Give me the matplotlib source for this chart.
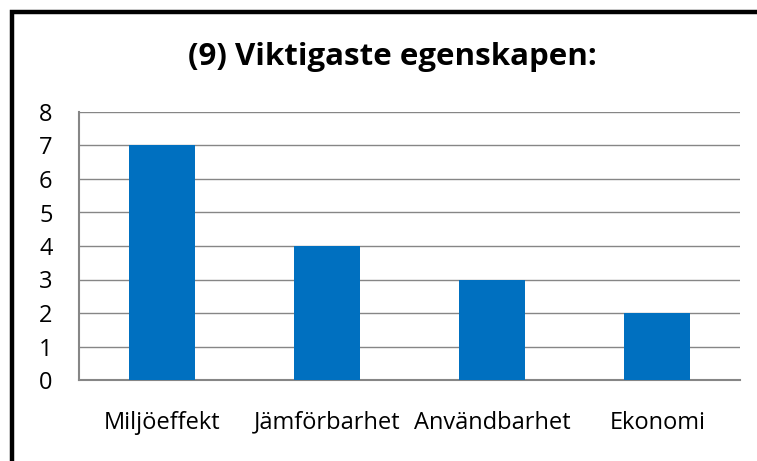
import matplotlib
matplotlib.use("Agg")
import matplotlib.pyplot as plt
from matplotlib.patches import Rectangle

categories = ["Miljöeffekt", "Jämförbarhet", "Användbarhet", "Ekonomi"]
values = [7, 4, 3, 2]
yticks = [0, 1, 2, 3, 4, 5, 6, 7, 8]
title = "(9) Viktigaste egenskapen:"

W, H = 757, 461
fig = plt.figure(figsize=(W / 100, H / 100), dpi=100)
fig.patch.set_facecolor("white")

# outer border (open on right/bottom, as cropped)
fig.patches.append(Rectangle((12 / W, -0.1), 1.2, (H - 12) / H + 0.1,
                             transform=fig.transFigure, fill=False,
                             edgecolor="black", linewidth=3.2))

left, right, top, bottom = 79, 740, 112, 380
ax = fig.add_axes([left / W, 1 - bottom / H, (right - left) / W, (bottom - top) / H])

x = range(len(categories))
ax.bar(x, values, width=0.4, color="#0070C0", zorder=3)
ax.set_xlim(-0.5, len(categories) - 0.5)
ax.set_ylim(0, 8)
ax.set_yticks(yticks)
ax.set_xticks(list(x))
ax.set_xticklabels(categories)
ax.grid(axis="y", color="#868686", linewidth=1.0, zorder=0)
for s in ["top", "right"]:
    ax.spines[s].set_visible(False)
for s in ["left", "bottom"]:
    ax.spines[s].set_color("#868686")
    ax.spines[s].set_linewidth(1.5)
ax.tick_params(axis="both", length=0, labelsize=17, colors="black")
ax.tick_params(axis="y", pad=19)
ax.tick_params(axis="x", pad=22)
for lab in ax.get_xticklabels() + ax.get_yticklabels():
    lab.set_fontfamily("Open Sans")

fig.text(392 / W, 1 - 57 / H, title, ha="center", va="center",
         fontsize=22.5, fontweight="bold", fontfamily="Open Sans")

fig.savefig("out.png", dpi=100)
